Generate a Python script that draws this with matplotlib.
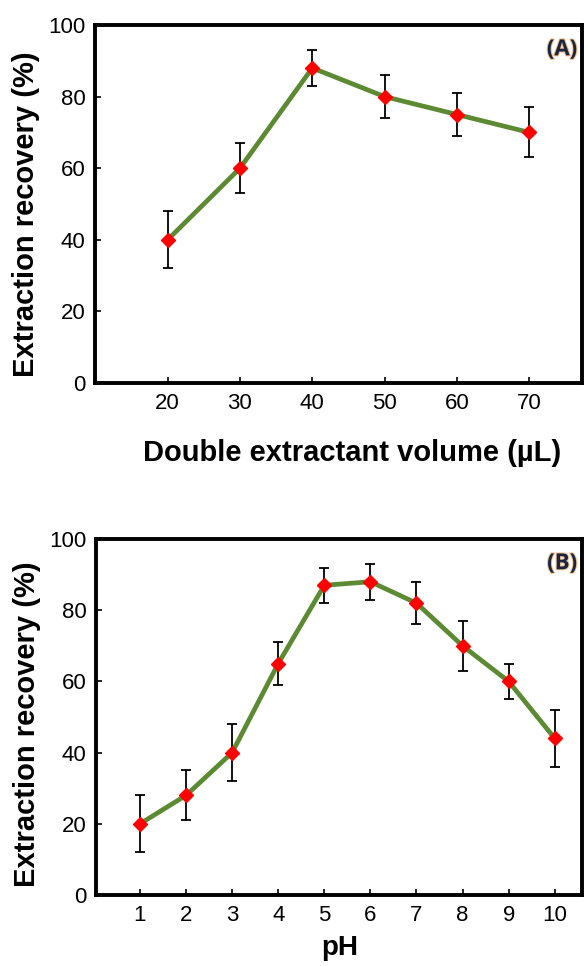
import matplotlib
matplotlib.use("Agg")
import matplotlib.pyplot as plt
import matplotlib.patheffects as pe

# ---- data ----
vol = [20, 30, 40, 50, 60, 70]
vol_er = [40, 60, 88, 80, 75, 70]
vol_err = [8, 7, 5, 6, 6, 7]

ph = [1, 2, 3, 4, 5, 6, 7, 8, 9, 10]
ph_er = [20, 28, 40, 65, 87, 88, 82, 70, 60, 44]
ph_err = [8, 7, 8, 6, 5, 5, 6, 7, 5, 8]

plt.rcParams["font.family"] = ["Liberation Sans", "DejaVu Sans"]

GREEN = "#5b8a32"
RED = "#ff0000"

fig = plt.figure(figsize=(5.84, 9.66), dpi=100)
ax1 = fig.add_axes([0.1627, 0.6035, 0.834, 0.3706])
ax2 = fig.add_axes([0.1644, 0.0735, 0.832, 0.3685])


def style(ax, x, y, err, xlim, label):
    ax.errorbar(x, y, yerr=err, fmt="none", ecolor="black",
                elinewidth=1.3, capsize=3.8, capthick=1.3, zorder=2)
    ax.plot(x, y, color=GREEN, lw=3.4, zorder=3)
    ax.plot(x, y, ls="none", marker="D", ms=7.5, mfc=RED, mec=RED, zorder=4)
    ax.set_xlim(*xlim)
    ax.set_ylim(0, 100)
    ax.set_xticks(x)
    ax.set_yticks(range(0, 101, 20))
    for s in ax.spines.values():
        s.set_linewidth(2.8)
    ax.tick_params(direction="in", length=4, width=1.2, labelsize=16)
    ax.tick_params(axis="y", pad=7)
    ax.tick_params(axis="x", pad=7)
    ax.set_ylabel("Extraction recovery (%)", fontsize=21, fontweight="bold")
    ax.text(0.99, 0.96, label, transform=ax.transAxes, ha="right", va="top",
            fontsize=16, fontweight="bold", color="#1c2540",
            family=["Open Sans", "DejaVu Sans"],
            path_effects=[pe.withStroke(linewidth=1.5, foreground="#f0c090")])


# ================= (A) =================
style(ax1, vol, vol_er, vol_err, (9.96, 77.3), "(A)")
ax1.yaxis.set_label_coords(-0.112, 0.472)
fig.text(0.603, 0.531, "Double extractant volume (µL)",
         ha="center", va="center", fontsize=21, fontweight="bold")

# ================= (B) =================
style(ax2, ph, ph_er, ph_err, (0.046, 10.59), "(B)")
ax2.yaxis.set_label_coords(-0.114, 0.48)
fig.text(0.582, 0.019, "pH", ha="center", va="center",
         fontsize=20, fontweight="bold")

fig.savefig("out.png", dpi=100)
